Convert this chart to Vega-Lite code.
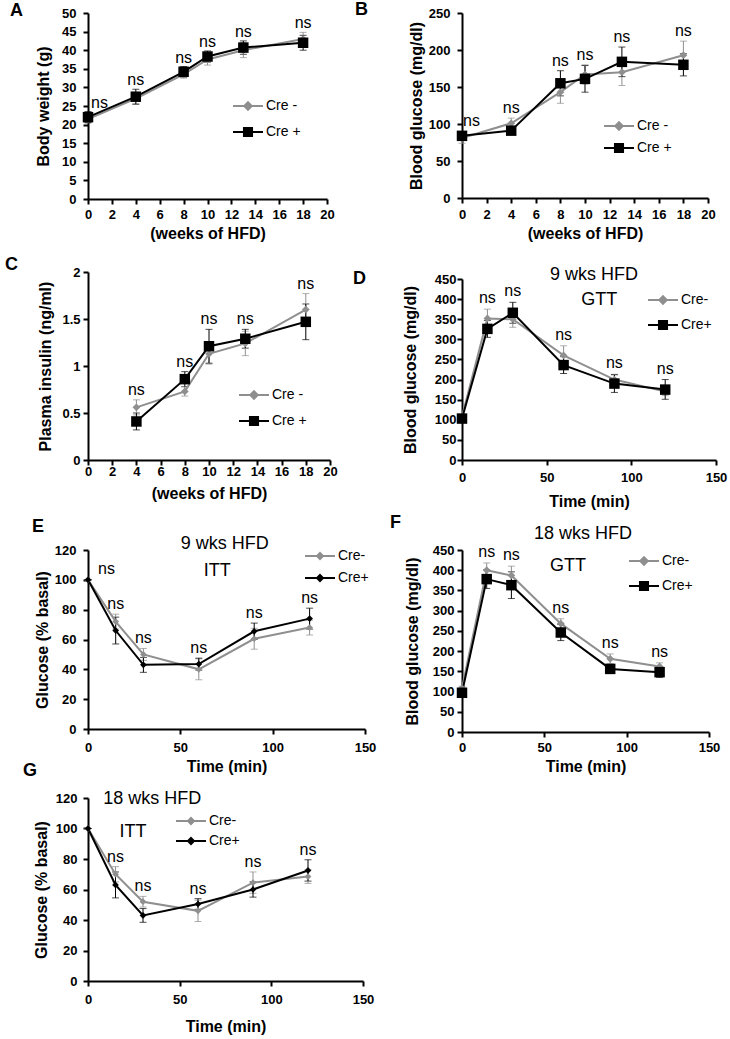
{
"$schema": "https://vega.github.io/schema/vega-lite/v6.json",
"padding": {"left": 5, "top": 1, "right": 5, "bottom": 5},
"background": "white",
"config": {
  "font": "Liberation Sans",
  "view": {"stroke": null},
  "axis": {"grid": false, "domainColor": "#000", "domainWidth": 2, "tickColor": "#000", "tickWidth": 2, "tickSize": 5, "labelFont": "Liberation Sans", "labelFontSize": 13, "labelFontWeight": "bold", "labelColor": "#000", "titleFont": "Liberation Sans", "titleFontSize": 16, "titleFontWeight": "bold", "titleColor": "#000", "labelFlush": false, "labelOverlap": false},
  "legend": {"labelFont": "Liberation Sans", "labelFontSize": 14, "labelColor": "#000", "padding": 0, "labelOffset": 2, "symbolSize": 900},
  "title": {"font": "Liberation Sans", "fontSize": 18, "fontWeight": "bold", "color": "#000", "anchor": "start", "frame": "group", "offset": 0, "baseline": "middle"},
  "text": {"font": "Liberation Sans", "fontSize": 16, "color": "#000"}
},
"datasets": {
  "A": [
    {"w":0,"g":"Cre -","m":21.5,"lo":20.5,"hi":22.5},{"w":4,"g":"Cre -","m":27.0,"lo":25.5,"hi":28.5},{"w":8,"g":"Cre -","m":33.5,"lo":32.5,"hi":34.5},{"w":10,"g":"Cre -","m":37.5,"lo":36.0,"hi":39.0},{"w":13,"g":"Cre -","m":40.0,"lo":38.0,"hi":42.0},{"w":18,"g":"Cre -","m":43.0,"lo":41.2,"hi":44.8},
    {"w":0,"g":"Cre +","m":22.0,"lo":20.5,"hi":23.5},{"w":4,"g":"Cre +","m":27.5,"lo":25.5,"hi":29.5},{"w":8,"g":"Cre +","m":34.2,"lo":32.8,"hi":35.6},{"w":10,"g":"Cre +","m":38.3,"lo":36.8,"hi":39.8},{"w":13,"g":"Cre +","m":40.7,"lo":38.9,"hi":42.5},{"w":18,"g":"Cre +","m":42.0,"lo":40.0,"hi":44.0}
  ],
  "B": [
    {"w":0,"g":"Cre -","m":81,"lo":74,"hi":88},{"w":4,"g":"Cre -","m":101,"lo":94,"hi":108},{"w":8,"g":"Cre -","m":143,"lo":128,"hi":158},{"w":10,"g":"Cre -","m":167,"lo":154,"hi":180},{"w":13,"g":"Cre -","m":170,"lo":152,"hi":188},{"w":18,"g":"Cre -","m":193,"lo":174,"hi":212},
    {"w":0,"g":"Cre +","m":84,"lo":80,"hi":88},{"w":4,"g":"Cre +","m":91,"lo":86,"hi":96},{"w":8,"g":"Cre +","m":155,"lo":138,"hi":172},{"w":10,"g":"Cre +","m":161,"lo":143,"hi":179},{"w":13,"g":"Cre +","m":184,"lo":164,"hi":204},{"w":18,"g":"Cre +","m":180,"lo":165,"hi":195}
  ],
  "C": [
    {"w":4,"g":"Cre -","m":0.56,"lo":0.48,"hi":0.64},{"w":8,"g":"Cre -","m":0.73,"lo":0.68,"hi":0.78},{"w":10,"g":"Cre -","m":1.13,"lo":1.02,"hi":1.24},{"w":13,"g":"Cre -","m":1.24,"lo":1.11,"hi":1.37},{"w":18,"g":"Cre -","m":1.60,"lo":1.43,"hi":1.77},
    {"w":4,"g":"Cre +","m":0.41,"lo":0.32,"hi":0.50},{"w":8,"g":"Cre +","m":0.86,"lo":0.78,"hi":0.94},{"w":10,"g":"Cre +","m":1.21,"lo":1.03,"hi":1.39},{"w":13,"g":"Cre +","m":1.29,"lo":1.19,"hi":1.39},{"w":18,"g":"Cre +","m":1.47,"lo":1.28,"hi":1.66}
  ],
  "D": [
    {"w":0,"g":"Cre-","m":108,"lo":104,"hi":112},{"w":15,"g":"Cre-","m":352,"lo":329,"hi":375},{"w":30,"g":"Cre-","m":350,"lo":330,"hi":370},{"w":60,"g":"Cre-","m":260,"lo":236,"hi":284},{"w":90,"g":"Cre-","m":200,"lo":187,"hi":213},{"w":120,"g":"Cre-","m":170,"lo":160,"hi":180},
    {"w":0,"g":"Cre+","m":103,"lo":99,"hi":107},{"w":15,"g":"Cre+","m":326,"lo":305,"hi":347},{"w":30,"g":"Cre+","m":366,"lo":340,"hi":392},{"w":60,"g":"Cre+","m":236,"lo":215,"hi":257},{"w":90,"g":"Cre+","m":190,"lo":168,"hi":212},{"w":120,"g":"Cre+","m":175,"lo":151,"hi":200}
  ],
  "E": [
    {"w":0,"g":"Cre-","m":100,"lo":100,"hi":100},{"w":15,"g":"Cre-","m":72,"lo":67,"hi":77},{"w":30,"g":"Cre-","m":50,"lo":46,"hi":54},{"w":60,"g":"Cre-","m":40,"lo":33,"hi":47},{"w":90,"g":"Cre-","m":60.5,"lo":53.5,"hi":67.5},{"w":120,"g":"Cre-","m":68,"lo":63,"hi":73},
    {"w":0,"g":"Cre+","m":100,"lo":100,"hi":100},{"w":15,"g":"Cre+","m":66,"lo":57,"hi":75},{"w":30,"g":"Cre+","m":43,"lo":38,"hi":48},{"w":60,"g":"Cre+","m":43.5,"lo":39.5,"hi":47.5},{"w":90,"g":"Cre+","m":65.5,"lo":60,"hi":71},{"w":120,"g":"Cre+","m":74,"lo":67,"hi":81}
  ],
  "F": [
    {"w":0,"g":"Cre-","m":108,"lo":103,"hi":113},{"w":15,"g":"Cre-","m":400,"lo":382,"hi":418},{"w":30,"g":"Cre-","m":387,"lo":364,"hi":410},{"w":60,"g":"Cre-","m":268,"lo":256,"hi":280},{"w":90,"g":"Cre-","m":181,"lo":169,"hi":193},{"w":120,"g":"Cre-","m":162,"lo":153,"hi":171},
    {"w":0,"g":"Cre+","m":97,"lo":92,"hi":102},{"w":15,"g":"Cre+","m":378,"lo":355,"hi":401},{"w":30,"g":"Cre+","m":363,"lo":330,"hi":396},{"w":60,"g":"Cre+","m":246,"lo":226,"hi":266},{"w":90,"g":"Cre+","m":156,"lo":145,"hi":167},{"w":120,"g":"Cre+","m":148,"lo":135,"hi":161}
  ],
  "G": [
    {"w":0,"g":"Cre-","m":100,"lo":100,"hi":100},{"w":15,"g":"Cre-","m":70,"lo":65,"hi":75},{"w":30,"g":"Cre-","m":52,"lo":48.5,"hi":55.5},{"w":60,"g":"Cre-","m":46,"lo":39,"hi":53},{"w":90,"g":"Cre-","m":64.5,"lo":57.5,"hi":71.5},{"w":120,"g":"Cre-","m":68.5,"lo":64,"hi":73},
    {"w":0,"g":"Cre+","m":100,"lo":100,"hi":100},{"w":15,"g":"Cre+","m":63,"lo":54.5,"hi":71.5},{"w":30,"g":"Cre+","m":43,"lo":38.5,"hi":47.5},{"w":60,"g":"Cre+","m":50.5,"lo":47,"hi":54},{"w":90,"g":"Cre+","m":60,"lo":55,"hi":65},{"w":120,"g":"Cre+","m":72.5,"lo":65.5,"hi":79.5}
  ]
},
"spacing": -23,
"resolve": {"scale": {"color": "independent"}, "legend": {"color": "independent"}},
"hconcat": [
{"bounds": "flush", "spacing": 0, "resolve": {"scale": {"color": "independent"}, "legend": {"color": "independent"}},
 "vconcat": [
  {
   "width": 239, "height": 186,
   "title": {"text": "A", "dx": -78, "dy": 17},
   "data": {"name": "A"},
   "encoding": {
     "x": {"field": "w", "type": "quantitative", "scale": {"domain": [0, 20], "nice": false, "zero": false}, "axis": {"values": [0,2,4,6,8,10,12,14,16,18,20], "labelPadding": 4.5, "titlePadding": 3.5}, "title": "(weeks of HFD)"},
     "y": {"field": "m", "type": "quantitative", "scale": {"domain": [0, 50], "nice": false}, "axis": {"values": [0,5,10,15,20,25,30,35,40,45,50], "labelPadding": 7, "titlePadding": 10.5}, "title": "Body weight (g)"},
     "color": {"field": "g", "type": "nominal", "scale": {"domain": ["Cre -", "Cre +"], "range": ["#8f8f8f", "#000000"]},
       "legend": {"title": null, "orient": "none", "legendX": 144, "legendY": 83, "clipHeight": 20, "rowPadding": 6, "symbolSize": 900, "labelOffset": 2,
         "encode": {"symbols": {"update": {"shape": {"signal": "indexof(datum.value,'+')>=0 ? 'M-1,0H1M-0.27,-0.27H0.27V0.27H-0.27Z' : 'M-1,0H1M0,-0.25L0.25,0L0,0.25L-0.25,0Z'"}, "stroke": {"signal": "indexof(datum.value,'+')>=0 ? '#000000' : '#8f8f8f'"}, "fill": {"signal": "indexof(datum.value,'+')>=0 ? '#000000' : '#8f8f8f'"}, "strokeWidth": {"value": 2}, "opacity": {"value": 1}}}}}}
   },
   "layer": [
     {"mark": {"type": "errorbar", "ticks": {"size": 7, "thickness": 1}, "thickness": 1},
      "encoding": {"y": {"field": "lo", "type": "quantitative", "scale": {"domain": [0, 50], "nice": false}, "title": "Body weight (g)"}, "y2": {"field": "hi"}}},
     {"mark": {"type": "line", "strokeWidth": 2}, "encoding": {}},
     {"transform": [{"filter": "indexof(datum.g,'+') < 0"}], "mark": {"type": "point", "filled": true, "opacity": 1, "shape": "diamond", "size": 60}, "encoding": {}},
     {"transform": [{"filter": "indexof(datum.g,'+') >= 0"}], "mark": {"type": "point", "filled": true, "opacity": 1, "shape": "square", "size": 110}, "encoding": {}},
     {"transform": [{"filter": "datum.w > 0"}, {"aggregate": [{"op": "max", "field": "hi", "as": "top"}], "groupby": ["w"]}],
      "mark": {"type": "text", "baseline": "alphabetic", "dy": -4},
      "encoding": {"y": {"field": "top", "type": "quantitative", "scale": {"domain": [0, 50], "nice": false}, "title": "Body weight (g)"}, "text": {"value": "ns"}, "color": {"value": "#000"}}},
     {"transform": [{"filter": "datum.w == 0"}, {"aggregate": [{"op": "max", "field": "hi", "as": "top"}], "groupby": ["w"]}],
      "mark": {"type": "text", "baseline": "alphabetic", "align": "left", "dx": 3, "dy": -4},
      "encoding": {"y": {"field": "top", "type": "quantitative", "scale": {"domain": [0, 50], "nice": false}, "title": "Body weight (g)"}, "text": {"value": "ns"}, "color": {"value": "#000"}}}
   ]
  },
  {"width": 10, "height": 73, "data": {"values": []}, "mark": "point"},
  {
   "width": 242, "height": 188,
   "title": {"text": "C", "dx": -83, "dy": 12},
   "data": {"name": "C"},
   "encoding": {
     "x": {"field": "w", "type": "quantitative", "scale": {"domain": [0, 20], "nice": false, "zero": false}, "axis": {"values": [0,2,4,6,8,10,12,14,16,18,20], "labelPadding": 0, "titlePadding": 7}, "title": "(weeks of HFD)"},
     "y": {"field": "m", "type": "quantitative", "scale": {"domain": [0, 2], "nice": false}, "axis": {"values": [0,0.5,1,1.5,2], "format": "~g", "labelPadding": 3, "titlePadding": 8}, "title": "Plasma insulin (ng/ml)"},
     "color": {"field": "g", "type": "nominal", "scale": {"domain": ["Cre -", "Cre +"], "range": ["#8f8f8f", "#000000"]},
       "legend": {"title": null, "orient": "none", "legendX": 150, "legendY": 113, "clipHeight": 20, "rowPadding": 6, "symbolSize": 900, "labelOffset": 2,
         "encode": {"symbols": {"update": {"shape": {"signal": "indexof(datum.value,'+')>=0 ? 'M-1,0H1M-0.27,-0.27H0.27V0.27H-0.27Z' : 'M-1,0H1M0,-0.25L0.25,0L0,0.25L-0.25,0Z'"}, "stroke": {"signal": "indexof(datum.value,'+')>=0 ? '#000000' : '#8f8f8f'"}, "fill": {"signal": "indexof(datum.value,'+')>=0 ? '#000000' : '#8f8f8f'"}, "strokeWidth": {"value": 2}, "opacity": {"value": 1}}}}}}
   },
   "layer": [
     {"mark": {"type": "errorbar", "ticks": {"size": 7, "thickness": 1}, "thickness": 1},
      "encoding": {"y": {"field": "lo", "type": "quantitative", "scale": {"domain": [0, 2], "nice": false}, "title": "Plasma insulin (ng/ml)"}, "y2": {"field": "hi"}}},
     {"mark": {"type": "line", "strokeWidth": 2}, "encoding": {}},
     {"transform": [{"filter": "indexof(datum.g,'+') < 0"}], "mark": {"type": "point", "filled": true, "opacity": 1, "shape": "diamond", "size": 60}, "encoding": {}},
     {"transform": [{"filter": "indexof(datum.g,'+') >= 0"}], "mark": {"type": "point", "filled": true, "opacity": 1, "shape": "square", "size": 110}, "encoding": {}},
     {"transform": [{"filter": "datum.w > 0"}, {"aggregate": [{"op": "max", "field": "hi", "as": "top"}], "groupby": ["w"]}],
      "mark": {"type": "text", "baseline": "alphabetic", "dy": -5},
      "encoding": {"y": {"field": "top", "type": "quantitative", "scale": {"domain": [0, 2], "nice": false}, "title": "Plasma insulin (ng/ml)"}, "text": {"value": "ns"}, "color": {"value": "#000"}}}
   ]
  },
  {"width": 10, "height": 90, "data": {"values": []}, "mark": "point"},
  {
   "width": 277, "height": 179,
   "title": {"text": "E", "dx": -56, "dy": 4.5},
   "data": {"name": "E"},
   "encoding": {
     "x": {"field": "w", "type": "quantitative", "scale": {"domain": [0, 150], "nice": false, "zero": false}, "axis": {"values": [0,50,100,150], "labelPadding": 7.5, "titlePadding": 3.5}, "title": "Time (min)"},
     "y": {"field": "m", "type": "quantitative", "scale": {"domain": [0, 120], "nice": false}, "axis": {"values": [0,20,40,60,80,100,120], "labelPadding": 7, "titlePadding": 4.3}, "title": "Glucose (% basal)"},
     "color": {"field": "g", "type": "nominal", "scale": {"domain": ["Cre-", "Cre+"], "range": ["#8f8f8f", "#000000"]},
       "legend": {"title": null, "orient": "none", "legendX": 216, "legendY": -2, "clipHeight": 16, "rowPadding": 6, "symbolSize": 900, "labelOffset": 2,
         "encode": {"symbols": {"update": {"shape": {"value": "M-1,0H1M0,-0.2L0.2,0L0,0.2L-0.2,0Z"}, "stroke": {"signal": "indexof(datum.value,'+')>=0 ? '#000000' : '#8f8f8f'"}, "fill": {"signal": "indexof(datum.value,'+')>=0 ? '#000000' : '#8f8f8f'"}, "strokeWidth": {"value": 2}, "opacity": {"value": 1}}}}}}
   },
   "layer": [
     {"mark": {"type": "errorbar", "ticks": {"size": 7, "thickness": 1}, "thickness": 1},
      "encoding": {"y": {"field": "lo", "type": "quantitative", "scale": {"domain": [0, 120], "nice": false}, "title": "Glucose (% basal)"}, "y2": {"field": "hi"}}},
     {"mark": {"type": "line", "strokeWidth": 2}, "encoding": {}},
     {"mark": {"type": "point", "filled": true, "opacity": 1, "shape": "diamond", "size": 45}, "encoding": {}},
     {"transform": [{"filter": "datum.w > 0"}, {"aggregate": [{"op": "max", "field": "hi", "as": "top"}], "groupby": ["w"]}],
      "mark": {"type": "text", "baseline": "alphabetic", "dy": -5},
      "encoding": {"y": {"field": "top", "type": "quantitative", "scale": {"domain": [0, 120], "nice": false}, "title": "Glucose (% basal)"}, "text": {"value": "ns"}, "color": {"value": "#000"}}},
     {"transform": [{"filter": "datum.w == 0"}, {"aggregate": [{"op": "max", "field": "hi", "as": "top"}], "groupby": ["w"]}],
      "mark": {"type": "text", "baseline": "alphabetic", "align": "left", "dx": 10, "dy": -6},
      "encoding": {"y": {"field": "top", "type": "quantitative", "scale": {"domain": [0, 120], "nice": false}, "title": "Glucose (% basal)"}, "text": {"value": "ns"}, "color": {"value": "#000"}}},
     {"transform": [{"filter": "datum.w == 0 && indexof(datum.g,'+') >= 0"}], "mark": {"type": "text", "text": "9 wks HFD", "fontSize": 18, "baseline": "middle"},
      "encoding": {"x": {"datum": 74}, "y": {"datum": 124}, "color": {"value": "#000"}}},
     {"transform": [{"filter": "datum.w == 0 && indexof(datum.g,'+') >= 0"}], "mark": {"type": "text", "text": "ITT", "fontSize": 18, "baseline": "middle"},
      "encoding": {"x": {"datum": 70}, "y": {"datum": 106}, "color": {"value": "#000"}}}
   ]
  },
  {"width": 10, "height": 69, "data": {"values": []}, "mark": "point"},
  {
   "width": 275, "height": 183,
   "title": {"text": "G", "dx": -65, "dy": -5.5},
   "data": {"name": "G"},
   "encoding": {
     "x": {"field": "w", "type": "quantitative", "scale": {"domain": [0, 150], "nice": false, "zero": false}, "axis": {"values": [0,50,100,150], "labelPadding": 7.5, "titlePadding": 11.5}, "title": "Time (min)"},
     "y": {"field": "m", "type": "quantitative", "scale": {"domain": [0, 120], "nice": false}, "axis": {"values": [0,20,40,60,80,100,120], "labelPadding": 6, "titlePadding": 6}, "title": "Glucose (% basal)"},
     "color": {"field": "g", "type": "nominal", "scale": {"domain": ["Cre-", "Cre+"], "range": ["#8f8f8f", "#000000"]},
       "legend": {"title": null, "orient": "none", "legendX": 87, "legendY": 15, "clipHeight": 16, "rowPadding": 4, "symbolSize": 900, "labelOffset": 2,
         "encode": {"symbols": {"update": {"shape": {"value": "M-1,0H1M0,-0.2L0.2,0L0,0.2L-0.2,0Z"}, "stroke": {"signal": "indexof(datum.value,'+')>=0 ? '#000000' : '#8f8f8f'"}, "fill": {"signal": "indexof(datum.value,'+')>=0 ? '#000000' : '#8f8f8f'"}, "strokeWidth": {"value": 2}, "opacity": {"value": 1}}}}}}
   },
   "layer": [
     {"mark": {"type": "errorbar", "ticks": {"size": 7, "thickness": 1}, "thickness": 1},
      "encoding": {"y": {"field": "lo", "type": "quantitative", "scale": {"domain": [0, 120], "nice": false}, "title": "Glucose (% basal)"}, "y2": {"field": "hi"}}},
     {"mark": {"type": "line", "strokeWidth": 2}, "encoding": {}},
     {"mark": {"type": "point", "filled": true, "opacity": 1, "shape": "diamond", "size": 45}, "encoding": {}},
     {"transform": [{"filter": "datum.w > 0"}, {"aggregate": [{"op": "max", "field": "hi", "as": "top"}], "groupby": ["w"]}],
      "mark": {"type": "text", "baseline": "alphabetic", "dy": -5},
      "encoding": {"y": {"field": "top", "type": "quantitative", "scale": {"domain": [0, 120], "nice": false}, "title": "Glucose (% basal)"}, "text": {"value": "ns"}, "color": {"value": "#000"}}},
     {"transform": [{"filter": "datum.w == 0 && indexof(datum.g,'+') >= 0"}], "mark": {"type": "text", "text": "18 wks HFD", "fontSize": 18, "baseline": "middle"},
      "encoding": {"x": {"datum": 35}, "y": {"datum": 119.5}, "color": {"value": "#000"}}},
     {"transform": [{"filter": "datum.w == 0 && indexof(datum.g,'+') >= 0"}], "mark": {"type": "text", "text": "ITT", "fontSize": 18, "baseline": "middle"},
      "encoding": {"x": {"datum": 24.5}, "y": {"datum": 98}, "color": {"value": "#000"}}}
   ]
  }
 ]
},
{"bounds": "flush", "spacing": 0, "resolve": {"scale": {"color": "independent"}, "legend": {"color": "independent"}},
 "vconcat": [
  {
   "width": 246, "height": 185,
   "title": {"text": "B", "dx": -107, "dy": 16},
   "data": {"name": "B"},
   "encoding": {
     "x": {"field": "w", "type": "quantitative", "scale": {"domain": [0, 20], "nice": false, "zero": false}, "axis": {"values": [0,2,4,6,8,10,12,14,16,18,20], "labelPadding": 5.5, "titlePadding": 3.5}, "title": "(weeks of HFD)"},
     "y": {"field": "m", "type": "quantitative", "scale": {"domain": [0, 250], "nice": false}, "axis": {"values": [0,50,100,150,200,250], "labelPadding": 7, "titlePadding": 4.3}, "title": "Blood glucose (mg/dl)"},
     "color": {"field": "g", "type": "nominal", "scale": {"domain": ["Cre -", "Cre +"], "range": ["#8f8f8f", "#000000"]},
       "legend": {"title": null, "orient": "none", "legendX": 141, "legendY": 105, "clipHeight": 16, "rowPadding": 6, "symbolSize": 900, "labelOffset": 2,
         "encode": {"symbols": {"update": {"shape": {"signal": "indexof(datum.value,'+')>=0 ? 'M-1,0H1M-0.27,-0.27H0.27V0.27H-0.27Z' : 'M-1,0H1M0,-0.25L0.25,0L0,0.25L-0.25,0Z'"}, "stroke": {"signal": "indexof(datum.value,'+')>=0 ? '#000000' : '#8f8f8f'"}, "fill": {"signal": "indexof(datum.value,'+')>=0 ? '#000000' : '#8f8f8f'"}, "strokeWidth": {"value": 2}, "opacity": {"value": 1}}}}}}
   },
   "layer": [
     {"mark": {"type": "errorbar", "ticks": {"size": 7, "thickness": 1}, "thickness": 1},
      "encoding": {"y": {"field": "lo", "type": "quantitative", "scale": {"domain": [0, 250], "nice": false}, "title": "Blood glucose (mg/dl)"}, "y2": {"field": "hi"}}},
     {"mark": {"type": "line", "strokeWidth": 2}, "encoding": {}},
     {"transform": [{"filter": "indexof(datum.g,'+') < 0"}], "mark": {"type": "point", "filled": true, "opacity": 1, "shape": "diamond", "size": 60}, "encoding": {}},
     {"transform": [{"filter": "indexof(datum.g,'+') >= 0"}], "mark": {"type": "point", "filled": true, "opacity": 1, "shape": "square", "size": 110}, "encoding": {}},
     {"transform": [{"filter": "datum.w > 0"}, {"aggregate": [{"op": "max", "field": "hi", "as": "top"}], "groupby": ["w"]}],
      "mark": {"type": "text", "baseline": "alphabetic", "dy": -5},
      "encoding": {"y": {"field": "top", "type": "quantitative", "scale": {"domain": [0, 250], "nice": false}, "title": "Blood glucose (mg/dl)"}, "text": {"value": "ns"}, "color": {"value": "#000"}}},
     {"transform": [{"filter": "datum.w == 0"}, {"aggregate": [{"op": "max", "field": "hi", "as": "top"}], "groupby": ["w"]}],
      "mark": {"type": "text", "baseline": "alphabetic", "align": "left", "dx": 1, "dy": -7},
      "encoding": {"y": {"field": "top", "type": "quantitative", "scale": {"domain": [0, 250], "nice": false}, "title": "Blood glucose (mg/dl)"}, "text": {"value": "ns"}, "color": {"value": "#000"}}}
   ]
  },
  {"width": 10, "height": 81, "data": {"values": []}, "mark": "point"},
  {
   "width": 254, "height": 181,
   "title": {"text": "D", "dx": -109, "dy": 26.5},
   "data": {"name": "D"},
   "encoding": {
     "x": {"field": "w", "type": "quantitative", "scale": {"domain": [0, 150], "nice": false, "zero": false}, "axis": {"values": [0,50,100,150], "labelPadding": 6.5, "titlePadding": 8.5}, "title": "Time (min)"},
     "y": {"field": "m", "type": "quantitative", "scale": {"domain": [0, 450], "nice": false}, "axis": {"values": [0,50,100,150,200,250,300,350,400,450], "labelPadding": 1, "titlePadding": 16}, "title": "Blood glucose (mg/dl)"},
     "color": {"field": "g", "type": "nominal", "scale": {"domain": ["Cre-", "Cre+"], "range": ["#8f8f8f", "#000000"]},
       "legend": {"title": null, "orient": "none", "legendX": 185, "legendY": 11, "clipHeight": 20, "rowPadding": 5, "symbolSize": 900, "labelOffset": 2,
         "encode": {"symbols": {"update": {"shape": {"signal": "indexof(datum.value,'+')>=0 ? 'M-1,0H1M-0.27,-0.27H0.27V0.27H-0.27Z' : 'M-1,0H1M0,-0.25L0.25,0L0,0.25L-0.25,0Z'"}, "stroke": {"signal": "indexof(datum.value,'+')>=0 ? '#000000' : '#8f8f8f'"}, "fill": {"signal": "indexof(datum.value,'+')>=0 ? '#000000' : '#8f8f8f'"}, "strokeWidth": {"value": 2}, "opacity": {"value": 1}}}}}}
   },
   "layer": [
     {"mark": {"type": "errorbar", "ticks": {"size": 7, "thickness": 1}, "thickness": 1},
      "encoding": {"y": {"field": "lo", "type": "quantitative", "scale": {"domain": [0, 450], "nice": false}, "title": "Blood glucose (mg/dl)"}, "y2": {"field": "hi"}}},
     {"mark": {"type": "line", "strokeWidth": 2}, "encoding": {}},
     {"transform": [{"filter": "indexof(datum.g,'+') < 0"}], "mark": {"type": "point", "filled": true, "opacity": 1, "shape": "diamond", "size": 60}, "encoding": {}},
     {"transform": [{"filter": "indexof(datum.g,'+') >= 0"}], "mark": {"type": "point", "filled": true, "opacity": 1, "shape": "square", "size": 110}, "encoding": {}},
     {"transform": [{"filter": "datum.w > 0"}, {"aggregate": [{"op": "max", "field": "hi", "as": "top"}], "groupby": ["w"]}],
      "mark": {"type": "text", "baseline": "alphabetic", "dy": -6},
      "encoding": {"y": {"field": "top", "type": "quantitative", "scale": {"domain": [0, 450], "nice": false}, "title": "Blood glucose (mg/dl)"}, "text": {"value": "ns"}, "color": {"value": "#000"}}},
     {"transform": [{"filter": "datum.w == 0 && indexof(datum.g,'+') >= 0"}], "mark": {"type": "text", "text": "9 wks HFD", "fontSize": 18, "baseline": "middle"},
      "encoding": {"x": {"datum": 78}, "y": {"datum": 460}, "color": {"value": "#000"}}},
     {"transform": [{"filter": "datum.w == 0 && indexof(datum.g,'+') >= 0"}], "mark": {"type": "text", "text": "GTT", "fontSize": 18, "baseline": "middle"},
      "encoding": {"x": {"datum": 81}, "y": {"datum": 398}, "color": {"value": "#000"}}}
   ]
  },
  {"width": 10, "height": 90, "data": {"values": []}, "mark": "point"},
  {
   "width": 247, "height": 182,
   "title": {"text": "F", "dx": -72, "dy": 11.5},
   "data": {"name": "F"},
   "encoding": {
     "x": {"field": "w", "type": "quantitative", "scale": {"domain": [0, 150], "nice": false, "zero": false}, "axis": {"values": [0,50,100,150], "labelPadding": 4.5, "titlePadding": 3.5}, "title": "Time (min)"},
     "y": {"field": "m", "type": "quantitative", "scale": {"domain": [0, 450], "nice": false}, "axis": {"values": [0,50,100,150,200,250,300,350,400,450], "labelPadding": 3, "titlePadding": 12}, "title": "Blood glucose (mg/dl)"},
     "color": {"field": "g", "type": "nominal", "scale": {"domain": ["Cre-", "Cre+"], "range": ["#8f8f8f", "#000000"]},
       "legend": {"title": null, "orient": "none", "legendX": 166, "legendY": 1, "clipHeight": 20, "rowPadding": 5, "symbolSize": 900, "labelOffset": 2,
         "encode": {"symbols": {"update": {"shape": {"signal": "indexof(datum.value,'+')>=0 ? 'M-1,0H1M-0.27,-0.27H0.27V0.27H-0.27Z' : 'M-1,0H1M0,-0.25L0.25,0L0,0.25L-0.25,0Z'"}, "stroke": {"signal": "indexof(datum.value,'+')>=0 ? '#000000' : '#8f8f8f'"}, "fill": {"signal": "indexof(datum.value,'+')>=0 ? '#000000' : '#8f8f8f'"}, "strokeWidth": {"value": 2}, "opacity": {"value": 1}}}}}}
   },
   "layer": [
     {"mark": {"type": "errorbar", "ticks": {"size": 7, "thickness": 1}, "thickness": 1},
      "encoding": {"y": {"field": "lo", "type": "quantitative", "scale": {"domain": [0, 450], "nice": false}, "title": "Blood glucose (mg/dl)"}, "y2": {"field": "hi"}}},
     {"mark": {"type": "line", "strokeWidth": 2}, "encoding": {}},
     {"transform": [{"filter": "indexof(datum.g,'+') < 0"}], "mark": {"type": "point", "filled": true, "opacity": 1, "shape": "diamond", "size": 60}, "encoding": {}},
     {"transform": [{"filter": "indexof(datum.g,'+') >= 0"}], "mark": {"type": "point", "filled": true, "opacity": 1, "shape": "square", "size": 110}, "encoding": {}},
     {"transform": [{"filter": "datum.w > 0"}, {"aggregate": [{"op": "max", "field": "hi", "as": "top"}], "groupby": ["w"]}],
      "mark": {"type": "text", "baseline": "alphabetic", "dy": -6},
      "encoding": {"y": {"field": "top", "type": "quantitative", "scale": {"domain": [0, 450], "nice": false}, "title": "Blood glucose (mg/dl)"}, "text": {"value": "ns"}, "color": {"value": "#000"}}},
     {"transform": [{"filter": "datum.w == 0 && indexof(datum.g,'+') >= 0"}], "mark": {"type": "text", "text": "18 wks HFD", "fontSize": 18, "baseline": "middle"},
      "encoding": {"x": {"datum": 73.5}, "y": {"datum": 490}, "color": {"value": "#000"}}},
     {"transform": [{"filter": "datum.w == 0 && indexof(datum.g,'+') >= 0"}], "mark": {"type": "text", "text": "GTT", "fontSize": 18, "baseline": "middle"},
      "encoding": {"x": {"datum": 64.4}, "y": {"datum": 411}, "color": {"value": "#000"}}}
   ]
  }
 ]
}
]
}
